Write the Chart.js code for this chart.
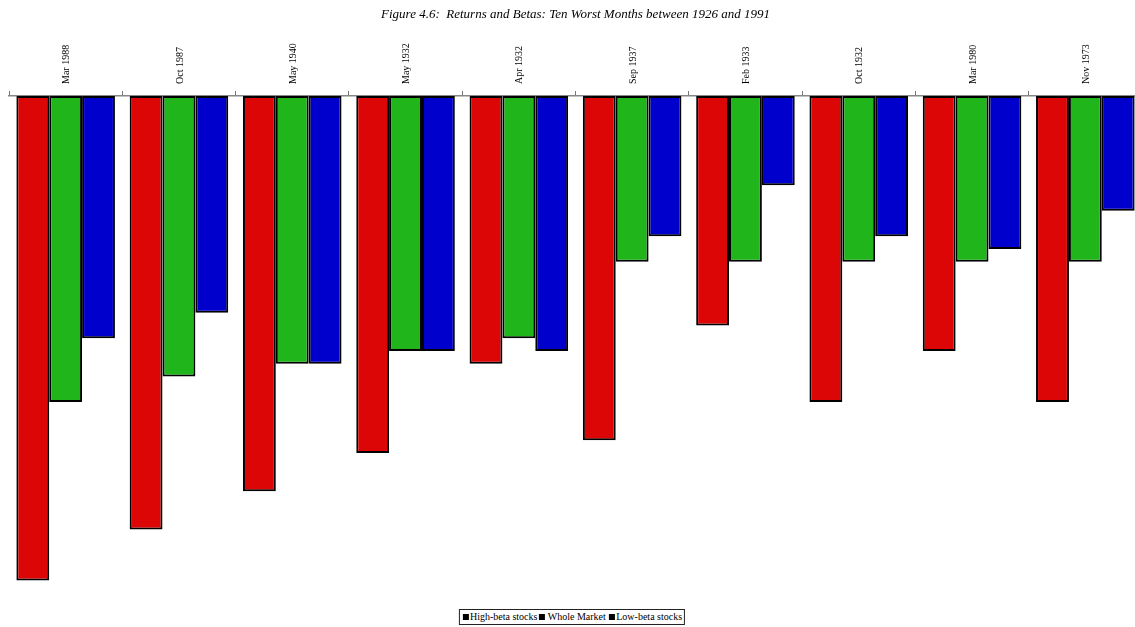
<!DOCTYPE html>
<html>
<head>
<meta charset="utf-8">
<script src="https://cdn.jsdelivr.net/npm/chart.js@4"></script>
<style>
    html, body { margin: 0; padding: 0; background: #fff; overflow: hidden; }
    body { width: 1135px; height: 627px; position: relative; }
    #caja { position: absolute; left: 0; top: 0; width: 1150px; height: 606px; }
    #leyenda {
        position: absolute; top: 609px; left: 572px; transform: translateX(-50%);
        border: 1px solid #222; padding: 1px 2px; white-space: pre;
        font: 10px "Liberation Serif", "Times New Roman", serif; color: #000; line-height: 12px;
    }
    #leyenda .cuadro { display: inline-block; width: 6px; height: 6px; background: #000; margin: 0 1px 0 1px; }
</style>
</head>
<body>
<div id="caja"><canvas id="grafico"></canvas></div>
<div id="leyenda"></div>
<script>
// =========================
// Datos (rentabilidad mensual, %)
// =========================
const meses = ["Mar 1988", "Oct 1987", "May 1940", "May 1932", "Apr 1932",
               "Sep 1937", "Feb 1933", "Oct 1932", "Mar 1980", "Nov 1973"];
const altaBeta = [-38, -34, -31, -28, -21, -27, -18, -24, -20, -24];
const mercado  = [-24, -22, -21, -20, -19, -13, -13, -13, -13, -13];
const bajaBeta = [-19, -17, -21, -20, -20, -11, -7, -11, -12, -9];
const series = ["High-beta stocks", " Whole Market ", "Low-beta stocks"];
const colores = ["#dd0606", "#20b51a", "#0000cc"];

const fuente = "'Liberation Serif', 'Times New Roman', serif";

// =========================
// Gráfico de barras
// =========================
const ctx = document.getElementById("grafico").getContext("2d");
const valores = [altaBeta, mercado, bajaBeta];

new Chart(ctx, {
    type: 'bar',
    data: {
        labels: meses,
        datasets: valores.map((v, i) => ({
            label: series[i].trim(),
            data: v,
            backgroundColor: colores[i],
            borderColor: '#000',
            borderWidth: 2,
            borderSkipped: false
        }))
    },
    options: {
        responsive: true,
        maintainAspectRatio: false,
        animation: false,
        layout: { padding: { left: 9, right: 8, top: 0, bottom: 0 } },
        datasets: { bar: { categoryPercentage: 0.87, barPercentage: 1.0 } },
        plugins: {
            legend: { display: false },
            tooltip: { enabled: false },
            title: {
                display: true,
                text: "Figure 4.6:  Returns and Betas: Ten Worst Months between 1926 and 1991",
                color: '#000',
                font: { family: fuente, size: 13, style: 'italic', weight: 'normal', lineHeight: 1.2 },
                padding: { top: 7, bottom: 0 }
            }
        },
        scales: {
            x: {
                position: 'top',
                afterFit: function (escala) { escala.height = 96 - 22.6; },
                grid: { drawOnChartArea: false, drawTicks: true, tickLength: 5, color: '#777', offset: true },
                border: { display: true, color: '#888', width: 1.5 },
                ticks: {
                    color: '#000',
                    minRotation: 90, maxRotation: 90,
                    padding: 7,
                    labelOffset: 13,
                    font: { family: fuente, size: 10 }
                }
            },
            y: {
                display: false,
                min: -40,
                max: 0
            }
        }
    }
});

// =========================
// Leyenda (cuadros negros como en el original)
// =========================
const leyenda = document.getElementById("leyenda");
series.forEach(nombre => {
    leyenda.innerHTML += `<span class="cuadro"></span>${nombre}`;
});
</script>
</body>
</html>
